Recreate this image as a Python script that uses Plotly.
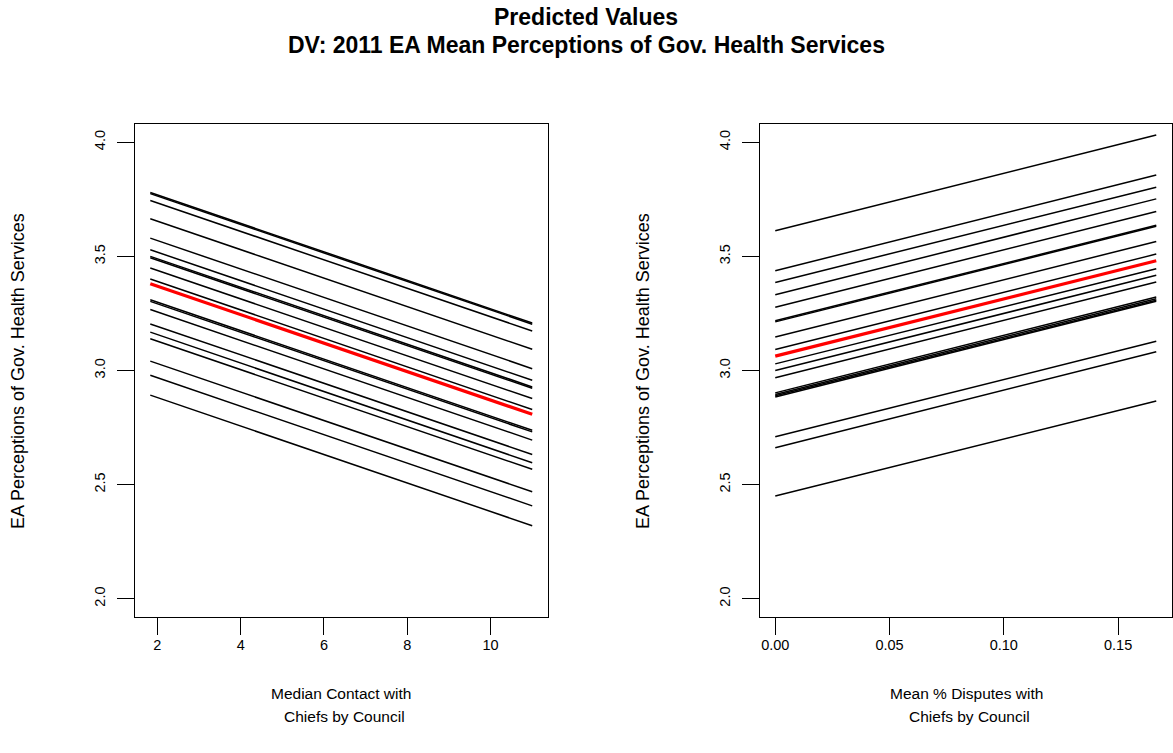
import plotly.graph_objects as go

# ---------------- Data ----------------
# Left panel: x = Median Contact with Chiefs by Council
contact_x = [1.83, 11.0]
contact_start = [3.780, 3.775, 3.745, 3.665, 3.580, 3.529, 3.500, 3.494, 3.449, 3.401,
                 3.310, 3.303, 3.267, 3.204, 3.168, 3.139, 3.041, 2.979, 2.892]
contact_end = [3.208, 3.203, 3.173, 3.093, 3.008, 2.957, 2.928, 2.922, 2.877, 2.829,
               2.738, 2.731, 2.695, 2.632, 2.596, 2.567, 2.469, 2.407, 2.320]
contact_red = [3.380, 2.808]

# Right panel: x = Mean % Disputes with Chiefs by Council
disputes_x = [0.0, 0.1667]
disputes_start = [3.612, 3.437, 3.386, 3.332, 3.277, 3.218, 3.213, 3.147, 3.092, 3.029,
                  3.000, 2.968, 2.902, 2.895, 2.889, 2.884, 2.710, 2.662, 2.450]
disputes_end = [4.032, 3.857, 3.803, 3.752, 3.697, 3.636, 3.632, 3.565, 3.510, 3.446,
                3.417, 3.388, 3.322, 3.314, 3.308, 3.303, 3.128, 3.082, 2.866]
disputes_red = [3.063, 3.481]

left_xticks = [2, 4, 6, 8, 10]
right_xticks = [0.00, 0.05, 0.10, 0.15]
right_xticklabels = ["0.00", "0.05", "0.10", "0.15"]
yticks = [2.0, 2.5, 3.0, 3.5, 4.0]
yticklabels = ["2.0", "2.5", "3.0", "3.5", "4.0"]

title_lines = ["Predicted Values", "DV: 2011 EA Mean Perceptions of Gov. Health Services"]
ylab = "EA Perceptions of Gov. Health Services"
left_xlab = ["Median Contact with", "Chiefs by Council"]
right_xlab = ["Mean % Disputes with", "Chiefs by Council"]

W, H = 1173, 753
FONT = "Liberation Sans, Arial, Helvetica, sans-serif"


def seg_xy(xr, starts, ends):
    xs, ys = [], []
    for s, e in zip(starts, ends):
        xs += [xr[0], xr[1], None]
        ys += [s, e, None]
    return xs, ys


fig = go.Figure()

lx, ly = seg_xy(contact_x, contact_start, contact_end)
fig.add_trace(go.Scatter(x=lx, y=ly, mode="lines", line=dict(color="black", width=1.5),
                         xaxis="x", yaxis="y", showlegend=False, hoverinfo="skip"))
fig.add_trace(go.Scatter(x=contact_x, y=contact_red, mode="lines", line=dict(color="#ff0000", width=3.2),
                         xaxis="x", yaxis="y", showlegend=False))

rx, ry = seg_xy(disputes_x, disputes_start, disputes_end)
fig.add_trace(go.Scatter(x=rx, y=ry, mode="lines", line=dict(color="black", width=1.5),
                         xaxis="x2", yaxis="y2", showlegend=False, hoverinfo="skip"))
fig.add_trace(go.Scatter(x=disputes_x, y=disputes_red, mode="lines", line=dict(color="#ff0000", width=3.2),
                         xaxis="x2", yaxis="y2", showlegend=False))


def px(v):
    return v / W


def py(v):
    return 1 - v / H


def pad(r):
    d = (r[1] - r[0]) * 0.04
    return [r[0] - d, r[1] + d]


axis_common = dict(showgrid=False, zeroline=False, showline=True, mirror=True,
                   linecolor="black", linewidth=1.3, ticks="outside", ticklen=17,
                   tickwidth=1.3, tickcolor="black",
                   tickfont=dict(family=FONT, size=14.5, color="black"))

ydom = [py(617), py(124)]
fig.update_layout(
    width=W, height=H,
    margin=dict(l=0, r=0, t=0, b=0),
    paper_bgcolor="white", plot_bgcolor="white",
    font=dict(family=FONT, color="black"),
    xaxis=dict(domain=[px(135), px(547.5)], range=pad([contact_x[0], contact_x[1]]),
               tickvals=left_xticks, anchor="y", ticklabelstandoff=-3, **axis_common),
    yaxis=dict(domain=ydom, range=[1.92, 4.08], tickvals=yticks, ticktext=yticklabels,
               tickangle=-90, anchor="x", ticklabelstandoff=6, **axis_common),
    xaxis2=dict(domain=[px(760), px(1171.5)], range=pad(disputes_x),
                tickvals=right_xticks, ticktext=right_xticklabels, anchor="y2",
                ticklabelstandoff=-3, **axis_common),
    yaxis2=dict(domain=ydom, range=[1.92, 4.08], tickvals=yticks, ticktext=yticklabels,
                tickangle=-90, anchor="x2", ticklabelstandoff=6, **axis_common),
)

ann = []
ann.append(dict(text="<b>%s</b>" % title_lines[0], x=px(586), y=py(17)))
ann.append(dict(text="<b>%s</b>" % title_lines[1], x=px(586), y=py(45)))
for a in ann:
    a.update(xref="paper", yref="paper", showarrow=False, xanchor="center", yanchor="middle",
             font=dict(family=FONT, size=23, color="black"))

lab = []
lab.append(dict(text=ylab, x=px(18), y=py(371), textangle=-90, font=dict(family=FONT, size=18, color="black")))
lab.append(dict(text=ylab, x=px(643), y=py(371), textangle=-90, font=dict(family=FONT, size=18, color="black")))
lab.append(dict(text=left_xlab[0], x=px(341), y=py(693)))
lab.append(dict(text=left_xlab[1], x=px(344), y=py(716)))
lab.append(dict(text=right_xlab[0], x=px(966), y=py(693)))
lab.append(dict(text=right_xlab[1], x=px(969), y=py(716)))
for a in lab:
    a.update(xref="paper", yref="paper", showarrow=False, xanchor="center", yanchor="middle")
    if "font" not in a:
        a["font"] = dict(family=FONT, size=15.5, color="black")

fig.update_layout(annotations=ann + lab)

fig.write_html("out.html")
